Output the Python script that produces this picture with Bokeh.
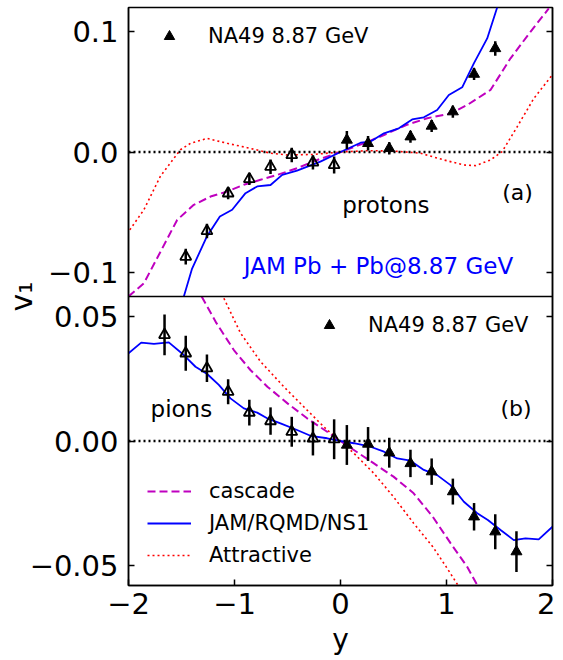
import math
from bokeh.plotting import figure
from bokeh.models import (Range1d, LinearAxis, FixedTicker, CustomJSTickFormatter,
                          Span, Label, Legend, LegendItem)
from bokeh.embed import file_html
from bokeh.resources import INLINE

FONT = "DejaVu Sans"

# ---------------- data ----------------
# panel (a): protons, NA49 8.87 GeV (negative side reflected -> open markers)
p_x_neg = [-1.46, -1.26, -1.06, -0.86, -0.66, -0.46, -0.26, -0.06]
p_v_neg = [-0.0869, -0.0656, -0.0343, -0.0224, -0.0122, -0.0025, -0.0086, -0.0108]
p_e_neg = [0.0065, 0.006, 0.005, 0.005, 0.006, 0.006, 0.006, 0.007]
p_x_pos = [0.06, 0.26, 0.46, 0.66, 0.86, 1.06, 1.26, 1.46]
p_v_pos = [0.0100, 0.0072, 0.0030, 0.0127, 0.0216, 0.0335, 0.0647, 0.0860]
p_e_pos = [0.0075, 0.006, 0.005, 0.005, 0.005, 0.005, 0.005, 0.006]

# panel (a) model curves
pa_jam_x = [-1.478, -1.40, -1.258, -1.138, -1.022, -0.896, -0.786, -0.66, -0.55, -0.41, -0.19, 0.0,
            0.19, 0.28, 0.41, 0.55, 0.676, 0.786, 0.912, 1.022, 1.148, 1.258, 1.384, 1.478]
pa_jam_v = [-0.12, -0.0968, -0.0697, -0.0536, -0.048, -0.0342, -0.0286, -0.0274, -0.019, -0.0155, -0.008, 0.0,
            0.0077, 0.0085, 0.0155, 0.0197, 0.027, 0.0288, 0.0349, 0.0473, 0.0537, 0.0736, 0.0943, 0.12]
pa_cas_x = [-2.0, -1.855, -1.698, -1.541, -1.384, -1.226, -1.069, -0.912, -0.755, -0.597, -0.41, -0.22, 0.0,
            0.22, 0.41, 0.62, 0.818, 1.038, 1.195, 1.415, 1.604, 1.792, 1.965]
pa_cas_v = [-0.12, -0.109, -0.0828, -0.0564, -0.0439, -0.037, -0.0328, -0.0272, -0.0231, -0.019, -0.0135, -0.0066, 0.0,
            0.0072, 0.0141, 0.0224, 0.028, 0.032, 0.039, 0.0515, 0.0778, 0.0998, 0.1192]
pa_att_x = [-1.988, -1.855, -1.698, -1.51, -1.415, -1.258, -1.069, -0.88, -0.66, -0.5, -0.25, 0.0,
            0.25, 0.5, 0.755, 0.975, 1.164, 1.274, 1.415, 1.525, 1.667, 1.824, 1.997]
pa_att_v = [-0.0647, -0.048, -0.020, 0.0019, 0.0072, 0.0113, 0.0072, 0.0036, -0.001, -0.0025, -0.002, 0.0,
            0.0011, 0.0008, -0.001, -0.0066, -0.0108, -0.0113, -0.0066, 0.0003, 0.021, 0.0445, 0.0639]

# panel (b): pions, NA49 8.87 GeV
pi_x_neg = [-1.66, -1.46, -1.26, -1.06, -0.86, -0.66, -0.46, -0.26, -0.06]
pi_v_neg = [0.0426, 0.0352, 0.0292, 0.0198, 0.0114, 0.0080, 0.0037, 0.0010, 0.0007]
pi_e_neg = [0.0082, 0.007, 0.0055, 0.005, 0.0052, 0.0055, 0.006, 0.0068, 0.008]
pi_x_pos = [0.06, 0.26, 0.46, 0.66, 0.86, 1.06, 1.26, 1.46, 1.66]
pi_v_pos = [-0.0016, -0.0012, -0.0047, -0.0090, -0.0123, -0.0203, -0.0304, -0.0364, -0.0444]
pi_e_pos = [0.008, 0.0068, 0.006, 0.0055, 0.0053, 0.0052, 0.0055, 0.007, 0.0082]

# panel (b) model curves
pb_jam_x = [-2.0, -1.88, -1.76, -1.62, -1.478, -1.368, -1.258, -1.148, -1.038, -0.912, -0.786, -0.692,
            -0.566, -0.41, -0.283, -0.126, 0.0, 0.126, 0.283, 0.41, 0.535, 0.66, 0.786, 0.912, 1.038,
            1.164, 1.29, 1.39, 1.51, 1.635, 1.745, 1.87, 2.0]
pb_jam_v = [0.0352, 0.0395, 0.039, 0.0396, 0.0345, 0.0298, 0.0269, 0.0225, 0.0171, 0.0131, 0.0114, 0.0091,
            0.0071, 0.0044, 0.0021, 0.0011, 0.0, -0.0009, -0.0023, -0.0043, -0.007, -0.0079, -0.0116, -0.0137,
            -0.0177, -0.0244, -0.029, -0.0317, -0.0357, -0.0398, -0.0391, -0.0395, -0.0344]
pb_cas_x = [-1.31, -1.17, -1.006, -0.85, -0.69, -0.5, -0.315, -0.126, 0.0, 0.126, 0.315, 0.5, 0.69, 0.87,
            1.038, 1.195, 1.29]
pb_cas_v = [0.058, 0.0473, 0.0365, 0.0285, 0.0218, 0.0151, 0.0091, 0.0037, 0.0, -0.0036, -0.009, -0.0143,
            -0.021, -0.0304, -0.041, -0.0505, -0.0578]
pb_att_x = [-1.1, -0.943, -0.755, -0.535, -0.315, -0.126, 0.0, 0.126, 0.315, 0.5, 0.69, 0.87, 0.997, 1.107]
pb_att_v = [0.0573, 0.0433, 0.0319, 0.0218, 0.0124, 0.0044, 0.0, -0.0049, -0.013, -0.0224, -0.033, -0.0424,
            -0.0505, -0.0578]

# axes / ticks
x_ticks = [-2, -1, 0, 1, 2]
a_range = (-0.12, 0.12)
a_ticks = [-0.1, 0.0, 0.1]
b_range = (-0.058, 0.058)
b_ticks = [-0.05, 0.0, 0.05]

# ---------------- figure (two stacked panels sharing x) ----------------
b_lo, b_hi = b_range
span_b = b_hi - b_lo
main_hi = b_hi + span_b              # upper half of the frame hosts panel (a)
a_lo, a_hi = a_range
span_a = a_hi - a_lo
top_range = Range1d(a_lo - span_a, a_hi)  # panel (a) maps onto upper half

scale = (main_hi - b_lo) / (a_hi - (a_lo - span_a))
offset_a = a_lo - span_a


def a_to_main(v):
    return b_lo + (v - offset_a) * scale


p = figure(frame_width=424, frame_height=578, output_backend="svg", toolbar_location=None,
           x_range=Range1d(-2, 2), y_range=Range1d(b_lo, main_hi),
           min_border_left=128, min_border_right=3, min_border_top=7, min_border_bottom=0,
           background_fill_color="white", border_fill_color="white")
p.extra_y_ranges = {"top": top_range}
p.grid.visible = False
p.outline_line_color = "black"
p.outline_line_width = 1.5

left_ticks = b_ticks + [a_to_main(v) for v in a_ticks]
fmt_y = CustomJSTickFormatter(args=dict(split=b_hi, off=offset_a, sc=scale, lo=b_lo), code="""
    let v, d;
    if (tick > split) { v = (tick - lo) / sc + off; d = 1; } else { v = tick; d = 2; }
    if (Math.abs(v) < 1e-9) v = 0;
    return v.toFixed(d).replace('-', '\u2212');
""")

yax = p.yaxis[0]
yax.ticker = FixedTicker(ticks=left_ticks)
yax.formatter = fmt_y
yax.axis_label = "v\u2081"
yax.axis_label_text_font_size = "30px"
yax.axis_label_standoff = -12

xax = p.xaxis[0]
xax.ticker = FixedTicker(ticks=x_ticks)
xax.formatter = CustomJSTickFormatter(code="return tick.toFixed(0).replace('-', '\u2212');")
xax.axis_label = "y"
xax.axis_label_text_font_size = "28px"
xax.axis_label_standoff = 6

rax = LinearAxis(ticker=FixedTicker(ticks=left_ticks),
                 formatter=CustomJSTickFormatter(code="return '';"))
rax.major_label_text_font_size = "0px"
rax.major_label_standoff = 0
p.add_layout(rax, "right")

for ax in [yax, xax, rax]:
    ax.major_tick_in = 6
    ax.major_tick_out = 0
    ax.minor_tick_in = 0
    ax.minor_tick_out = 0
    ax.major_tick_line_width = 1.5
    ax.axis_line_width = 1.5
    ax.major_label_text_font = FONT
    ax.major_label_text_color = "black"
    ax.axis_label_text_font = FONT
    ax.axis_label_text_font_style = "normal"
    ax.axis_label_text_color = "black"
for ax in [yax, xax]:
    ax.major_label_text_font_size = "29px"
yax.major_label_standoff = 10
xax.major_label_standoff = 7

# separator between the panels and zero lines
p.add_layout(Span(location=b_hi, dimension="width", line_color="black", line_width=1.5))
p.add_layout(Span(location=0, dimension="width", line_color="black", line_width=2.5,
                  line_dash="2 3"))
p.add_layout(Span(location=0, dimension="width", line_color="black", line_width=2.5,
                  line_dash="2 3", y_range_name="top"))

MAG = "#bf00bf"
BLUE = "#0000ff"
RED = "#ff0000"

# ---- panel (a) ----
p.line(pa_att_x, pa_att_v, color=RED, line_width=1.6, line_dash="2 3", y_range_name="top")
p.line(pa_cas_x, pa_cas_v, color=MAG, line_width=2, line_dash="8 4", y_range_name="top")
p.line(pa_jam_x, pa_jam_v, color=BLUE, line_width=1.8, y_range_name="top")

p.segment(p_x_neg, [v - e for v, e in zip(p_v_neg, p_e_neg)], p_x_neg,
          [v + e for v, e in zip(p_v_neg, p_e_neg)], color="black", line_width=2.5, y_range_name="top")
p.segment(p_x_pos, [v - e for v, e in zip(p_v_pos, p_e_pos)], p_x_pos,
          [v + e for v, e in zip(p_v_pos, p_e_pos)], color="black", line_width=2.5, y_range_name="top")
p.scatter(p_x_neg, p_v_neg, marker="triangle", size=11, fill_color=None, line_color="black",
          line_width=1.8, y_range_name="top")
r_a = p.scatter(p_x_pos, p_v_pos, marker="triangle", size=11, fill_color="black", line_color="black",
                y_range_name="top")

# ---- panel (b) ----
r_att = p.line(pb_att_x, pb_att_v, color=RED, line_width=1.6, line_dash="2 3")
r_cas = p.line(pb_cas_x, pb_cas_v, color=MAG, line_width=2, line_dash="8 4")
r_jam = p.line(pb_jam_x, pb_jam_v, color=BLUE, line_width=1.8)

p.segment(pi_x_neg, [v - e for v, e in zip(pi_v_neg, pi_e_neg)], pi_x_neg,
          [v + e for v, e in zip(pi_v_neg, pi_e_neg)], color="black", line_width=2.5)
p.segment(pi_x_pos, [v - e for v, e in zip(pi_v_pos, pi_e_pos)], pi_x_pos,
          [v + e for v, e in zip(pi_v_pos, pi_e_pos)], color="black", line_width=2.5)
p.scatter(pi_x_neg, pi_v_neg, marker="triangle", size=11, fill_color=None, line_color="black",
          line_width=1.8)
r_b = p.scatter(pi_x_pos, pi_v_pos, marker="triangle", size=11, fill_color="black", line_color="black")

# ---- texts ----
def lab(x, y, text, size, color="black", rng="default", **kw):
    p.add_layout(Label(x=x, y=y, text=text, text_font=FONT, text_font_size=size,
                       text_color=color, text_baseline="middle", y_range_name=rng, **kw))

lab(0.016, -0.044, "protons", "23px", rng="top")
lab(1.525, -0.034, "(a)", "22px", rng="top")
lab(-0.912, -0.0945, "JAM Pb + Pb@8.87 GeV", "23px", color=BLUE, rng="top")
lab(-1.792, 0.0128, "pions", "23px")
lab(1.509, 0.013, "(b)", "22px")

# ---- legends ----
def mk_legend(items, loc, gw, gh, standoff):
    lg = Legend(items=items, location=loc, glyph_width=gw, glyph_height=gh, label_height=gh,
                spacing=0, padding=0, margin=0, label_standoff=standoff,
                label_text_font=FONT, label_text_font_size="21px", label_text_color="black",
                border_line_alpha=0, background_fill_alpha=0)
    p.add_layout(lg)

mk_legend([LegendItem(label="NA49 8.87 GeV", renderers=[r_a])], (28, 536), 26, 26, 26)
mk_legend([LegendItem(label="NA49 8.87 GeV", renderers=[r_b])], (188, 247), 26, 26, 26)
mk_legend([LegendItem(label="cascade", renderers=[r_cas]),
           LegendItem(label="JAM/RQMD/NS1", renderers=[r_jam]),
           LegendItem(label="Attractive", renderers=[r_att])], (19, 14), 44, 32, 18)

open("out.html", "w").write(file_html(p, INLINE))
